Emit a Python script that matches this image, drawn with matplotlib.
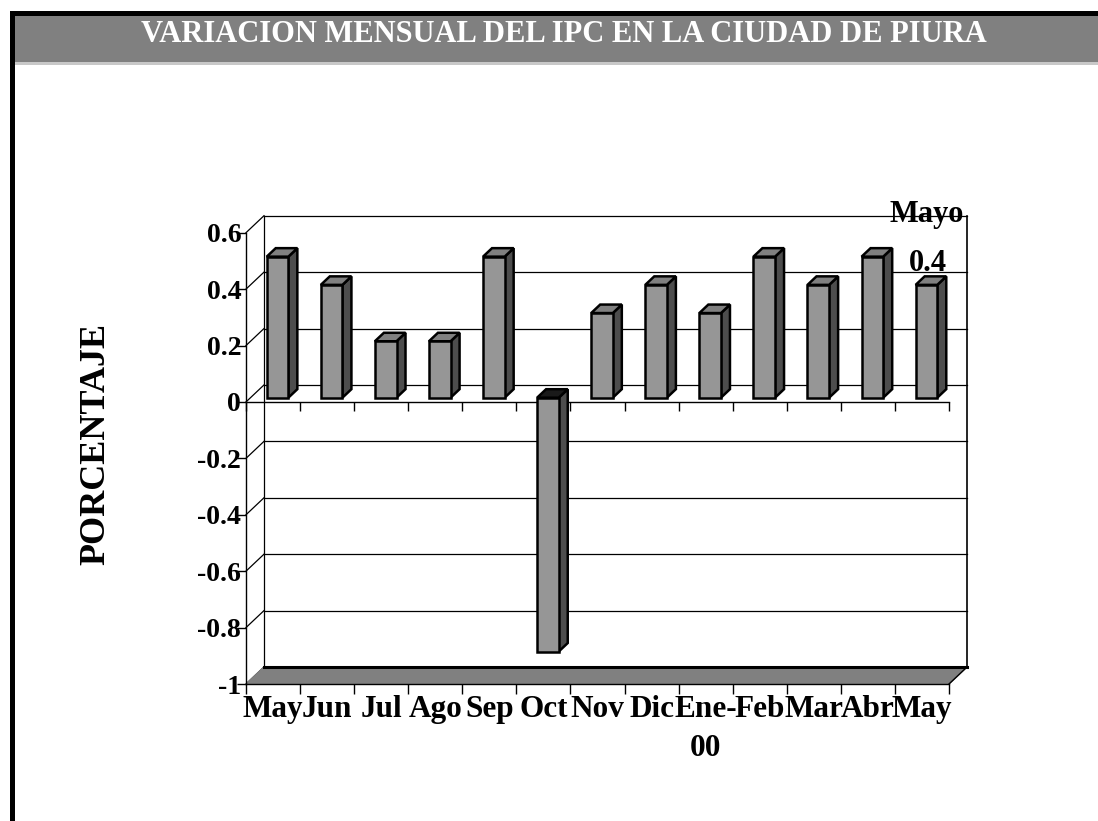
import numpy as np
import matplotlib
matplotlib.use('Agg')
import matplotlib.pyplot as plt
from matplotlib.patches import Rectangle

plt.rcParams['font.family'] = ['Liberation Serif', 'DejaVu Serif']
plt.rcParams['font.weight'] = 'bold'

# datos: variacion mensual del IPC (%)
months = ['May', 'Jun', 'Jul', 'Ago', 'Sep', 'Oct', 'Nov', 'Dic',
          'Ene-\n00', 'Feb', 'Mar', 'Abr', 'May']
values = [0.5, 0.4, 0.2, 0.2, 0.5, -0.9, 0.3, 0.4, 0.3, 0.5, 0.4, 0.5, 0.4]
yticks = [0.6, 0.4, 0.2, 0, -0.2, -0.4, -0.6, -0.8, -1]
ytick_labels = ['0.6', '0.4', '0.2', '0', '-0.2', '-0.4', '-0.6', '-0.8', '-1']
last_label = 'Mayo'

W, H = 1098, 821
fig = plt.figure(figsize=(W / 100, H / 100), dpi=100)

def fx(px):
    return px / W

def fy(py):
    return 1 - py / H

# marco y barra del titulo
fig.add_artist(Rectangle((fx(10), fy(821)), fx(5), fy(11) - fy(821),
                         transform=fig.transFigure, color='black', lw=0))
fig.add_artist(Rectangle((fx(10), fy(16)), 1, fy(11) - fy(16),
                         transform=fig.transFigure, color='black', lw=0))
fig.add_artist(Rectangle((fx(15), fy(62)), 1, fy(16) - fy(62),
                         transform=fig.transFigure, color='#808080', lw=0))
fig.add_artist(Rectangle((fx(15), fy(65)), 1, fy(62) - fy(65),
                         transform=fig.transFigure, color='#c8c8c8', lw=0))
fig.text(fx(564), fy(34), 'VARIACION MENSUAL DEL IPC EN LA CIUDAD DE PIURA',
         color='white', fontsize=22, ha='center', va='center')

ax = fig.add_axes([fx(246), fy(684), fx(949) - fx(246), fy(232.7) - fy(684)])
n = len(values)
ymin, ymax = yticks[-1], yticks[0]
ax.set_xlim(0, n)
ax.set_ylim(ymin, ymax)

# profundidad del grafico 3D (en unidades de datos)
DX = 18 / 54.08
DY = 17 / 282.0

# pared del fondo y pared lateral con lineas de division
for v in yticks:
    ax.plot([DX, n + DX], [v + DY, v + DY], color='black', lw=0.9,
            clip_on=False, zorder=1)
    ax.plot([0, DX], [v, v + DY], color='black', lw=0.9, clip_on=False, zorder=1)
ax.plot([DX, DX], [ymin + DY, ymax + DY], color='black', lw=0.9, clip_on=False, zorder=1)
ax.plot([n + DX, n + DX], [ymin + DY, ymax + DY], color='black', lw=1.2,
        clip_on=False, zorder=1)

# piso
ax.fill([0, n, n + DX, DX], [ymin, ymin, ymin + DY, ymin + DY],
        color='#808080', clip_on=False, zorder=2)
ax.plot([DX, n + DX], [ymin + DY, ymin + DY], color='black', lw=2.2,
        clip_on=False, zorder=2)
ax.plot([n, n + DX], [ymin, ymin + DY], color='black', lw=1, clip_on=False, zorder=2)

# eje de categorias en cero
bounds = np.arange(n + 1)
ax.plot([0, n], [0, 0], color='black', lw=1, clip_on=False, zorder=2)
ax.plot(bounds, np.zeros(n + 1), ls='none', marker=3, markersize=6.5, mew=1,
        color='black', clip_on=False, zorder=2)

# barras
bw = 0.4
f0 = 0.25
fd = 0.5
xc = np.arange(n) + 0.5 + f0 * DX
b0 = f0 * DY
ax.bar(xc, values, width=bw, bottom=b0, color='#969696', edgecolor='black',
       lw=1.8, zorder=5, clip_on=False)
for x, v in zip(xc, values):
    xl, xr = x - bw / 2, x + bw / 2
    top = b0 + max(v, 0)
    ax.fill([xr, xr + fd * DX, xr + fd * DX, xr],
            [b0, b0 + fd * DY, b0 + v + fd * DY, b0 + v],
            facecolor='#4d4d4d', edgecolor='black', lw=1.8, zorder=4, clip_on=False)
    ax.fill([xl, xr, xr + fd * DX, xl + fd * DX],
            [top, top, top + fd * DY, top + fd * DY],
            facecolor='#808080' if v > 0 else '#1a1a1a', edgecolor='black',
            lw=1.8, zorder=4, clip_on=False)

# etiqueta del ultimo dato
ax.annotate(f'{values[-1]:.1f}', (xc[-1], b0 + values[-1]), xytext=(1, 10),
            textcoords='offset points', ha='center', va='baseline',
            fontsize=22, annotation_clip=False, zorder=6)
ax.annotate(last_label, (xc[-1], b0 + values[-1]), xytext=(0, 45),
            textcoords='offset points', ha='center', va='baseline',
            fontsize=22, annotation_clip=False, zorder=6)

# ejes
ax.set_yticks(yticks, labels=ytick_labels)
ax.set_xticks(np.arange(n) + 0.5, labels=months)
ax.set_xticks(bounds, minor=True)
ax.tick_params(axis='y', direction='out', length=6.5, width=1, pad=-3,
               labelsize=20)
ax.tick_params(axis='x', which='major', length=0, pad=8, labelsize=22.5)
ax.tick_params(axis='x', which='minor', direction='out', length=7, width=1)
for lab in ax.get_xticklabels():
    if '\n' in lab.get_text():
        lab.set_linespacing(1.45)
for s in ['top', 'right']:
    ax.spines[s].set_visible(False)
ax.spines['left'].set_linewidth(1)
ax.spines['bottom'].set_linewidth(1)
ax.spines['left'].set_zorder(2)
ax.patch.set_alpha(0)

ax.set_ylabel('PORCENTAJE', fontsize=26, fontweight='bold')
ax.yaxis.set_label_coords((112 - 246) / 703, (684 - 444) / 451.3)

fig.savefig('out.png', dpi=100)
